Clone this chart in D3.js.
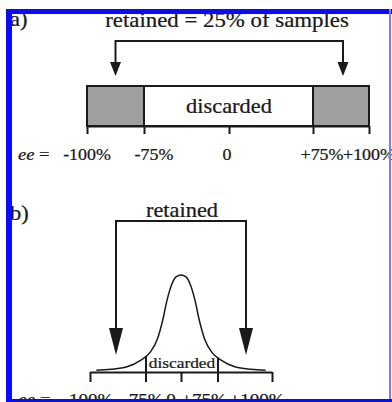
<!DOCTYPE html>
<html><head><meta charset="utf-8">
<script src="https://cdn.jsdelivr.net/npm/d3@7"></script>
<style>
body{margin:0;background:#fff;}
svg{display:block;}
svg text{stroke:#1a1a1a;stroke-width:0.25px;}
</style></head>
<body><svg id="c" width="392" height="402" font-family="'Liberation Serif', 'Times New Roman', 'DejaVu Serif', serif"></svg>
<script>
// ---- data ----
const tickValues = [-100, -75, 0, 75, 100];
const tickLabels = ["-100%", "-75%", "0", "+75%", "+100%"];
const regionBounds = [-100, -75, 75, 100];
const regionKinds = ["retained", "discarded", "retained"];
const retainedArrowEE = [-87.5, 87.5];
const titleA = "retained = 25% of samples";
const titleB = "retained";
const discardedLabel = "discarded";
const axisPrefix = "ee";
// panel b distribution (ee units vs relative density)
const curveEE = [-93, -77, -60, -44, -34, -25.8, -20.3, -15.4, -9.9, -5.5, 0, 5.5, 9.9, 15.4, 20.3, 25.8, 34, 44, 60, 77, 93];
const curveDensity = [0.8, 1.8, 4, 11, 19, 33, 51, 72, 89, 96, 98, 96, 89, 72, 51, 33, 19, 11, 4, 1.8, 0.8];

// ---- layout ----
const svg = d3.select("#c");
const ink = "#1a1a1a";
const SX = 1.12; // horizontal stretch of the original figure's lettering
function stretchedText(g, x, y, str, size, anchor) {
  return g.append("text")
    .attr("transform", `translate(${x},${y}) scale(${SX},1)`)
    .attr("text-anchor", anchor || "middle")
    .attr("font-size", size).attr("fill", ink)
    .text(str);
}

// ===== Panel a =====
const xA = d3.scaleLinear().domain(tickValues).range([87, 144, 229, 313, 369]);
const boxTop = 86, boxBot = 126;
const gA = svg.append("g");
const regions = regionKinds.map((k, i) => ({ kind: k, from: regionBounds[i], to: regionBounds[i + 1] }));
gA.selectAll("rect.reg").data(regions).join("rect")
  .attr("x", d => xA(d.from)).attr("y", boxTop)
  .attr("width", d => xA(d.to) - xA(d.from)).attr("height", boxBot - boxTop)
  .attr("fill", d => d.kind === "retained" ? "#a0a0a0" : "#fff")
  .attr("stroke", ink).attr("stroke-width", 2);
const axA = gA.append("g").attr("transform", `translate(0,${boxBot})`)
  .call(d3.axisBottom(xA).tickValues(tickValues).tickSize(8).tickSizeOuter(0).tickFormat(""));
axA.selectAll("path,line").attr("stroke", ink).attr("stroke-width", 2);
stretchedText(gA, xA(0), 113, discardedLabel, 20);
stretchedText(gA, xA(0) - 2, 27, titleA, 20.4);
// bracket with arrows
const brA = 41, arrBaseA = 62, arrTipA = 76, arrHalfA = 5.5;
const axL = xA(retainedArrowEE[0]), axR = xA(retainedArrowEE[1]) + 2;
gA.append("path").attr("d", `M${axL},${arrBaseA}V${brA}H${axR}V${arrBaseA}`)
  .attr("fill", "none").attr("stroke", ink).attr("stroke-width", 2);
[axL, axR].forEach(x => {
  gA.append("path").attr("d", `M${x - arrHalfA},${arrBaseA}L${x + arrHalfA},${arrBaseA}L${x},${arrTipA}Z`).attr("fill", ink);
});
const labelDxA = [0, 10, -2, 9, 0];
gA.selectAll("text.tl").data(tickValues).join("text").attr("class", "tl")
  .attr("transform", (d, i) => `translate(${xA(d) + labelDxA[i]},160) scale(${SX},1)`)
  .attr("text-anchor", "middle").attr("font-size", 16).attr("fill", ink)
  .text((d, i) => tickLabels[i]);
const preA = gA.append("text").attr("transform", `translate(18,160) scale(${SX},1)`).attr("font-size", 16.5).attr("fill", ink);
preA.append("tspan").attr("font-style", "italic").text(axisPrefix);
preA.append("tspan").text(" =");
gA.append("text").attr("transform", `translate(10,26) scale(${SX},1)`).attr("font-size", 20).attr("fill", ink).text("a)");

// ===== Panel b =====
const xB = d3.scaleLinear().domain(tickValues).range([90, 146, 181, 218, 272]);
const xCurve = d3.scaleLinear().domain([-100, 100]).range([90, 272]);
const yB = d3.scaleLinear().domain([0, 100]).range([371, 273]);
const axisYB = 372, tickLenB = 10;
const gB = svg.append("g");
const pts = curveEE.map((e, i) => [e, curveDensity[i]]);
gB.append("path").datum(pts)
  .attr("d", d3.line().x(d => xCurve(d[0])).y(d => yB(d[1])).curve(d3.curveMonotoneX))
  .attr("fill", "none").attr("stroke", ink).attr("stroke-width", 1.5);
const axB = gB.append("g").attr("transform", `translate(0,${axisYB})`)
  .call(d3.axisBottom(xB).tickValues([-100, 0, 100]).tickSize(tickLenB).tickSizeOuter(0).tickFormat(""));
axB.selectAll("path,line").attr("stroke", ink).attr("stroke-width", 2);
// discarded boundaries at +-75, rising to the curve
function densityAt(ee) {
  for (let i = 0; i < curveEE.length - 1; i++) {
    if (ee >= curveEE[i] && ee <= curveEE[i + 1]) {
      const t = (ee - curveEE[i]) / (curveEE[i + 1] - curveEE[i]);
      return curveDensity[i] + t * (curveDensity[i + 1] - curveDensity[i]);
    }
  }
  return 0;
}
[-75, 75].forEach(v => {
  const x = xB(v);
  gB.append("line").attr("x1", x).attr("x2", x)
    .attr("y1", axisYB + tickLenB).attr("y2", yB(densityAt(xCurve.invert(x))))
    .attr("stroke", ink).attr("stroke-width", 2);
});
stretchedText(gB, xB(0) + 1, 368, discardedLabel, 15.5);
stretchedText(gB, xB(0) + 1, 217, titleB, 20);
const brB = 221, arrBaseB = 328, arrTipB = 355, arrHalfB = 7;
const bL = xB(retainedArrowEE[0]) - 2, bR = xB(retainedArrowEE[1]) + 1;
gB.append("path").attr("d", `M${bL},${arrBaseB}V${brB}H${bR}V${arrBaseB}`)
  .attr("fill", "none").attr("stroke", ink).attr("stroke-width", 2);
[bL, bR].forEach(x => {
  gB.append("path").attr("d", `M${x - arrHalfB},${arrBaseB}L${x + arrHalfB},${arrBaseB}L${x},${arrTipB}Z`).attr("fill", ink);
});
const labelDxB = [-2, -3, -10, -14, -15];
gB.selectAll("text.tl").data(tickValues).join("text").attr("class", "tl")
  .attr("transform", (d, i) => `translate(${xB(d) + labelDxB[i]},405) scale(${SX},1)`)
  .attr("text-anchor", "middle").attr("font-size", 17).attr("fill", ink)
  .text((d, i) => tickLabels[i]);
const preB = gB.append("text").attr("transform", `translate(18,405) scale(${SX},1)`).attr("font-size", 17).attr("fill", ink);
preB.append("tspan").attr("font-style", "italic").text(axisPrefix);
preB.append("tspan").text(" =");
gB.append("text").attr("transform", `translate(10,220) scale(${SX},1)`).attr("font-size", 20).attr("fill", ink).text("b)");

// ===== blue frame =====
const frame = svg.append("g");
frame.append("rect").attr("x", 6).attr("y", 9).attr("width", 386).attr("height", 5).attr("fill", "#0a0aff");
frame.append("rect").attr("x", 6).attr("y", 9).attr("width", 6).attr("height", 393).attr("fill", "#0a0aff");
frame.append("rect").attr("x", 389).attr("y", 9).attr("width", 2).attr("height", 393).attr("fill", "#7b7bff");
frame.append("rect").attr("x", 6).attr("y", 399).attr("width", 386).attr("height", 3).attr("fill", "#0a0aff");
</script></body></html>
